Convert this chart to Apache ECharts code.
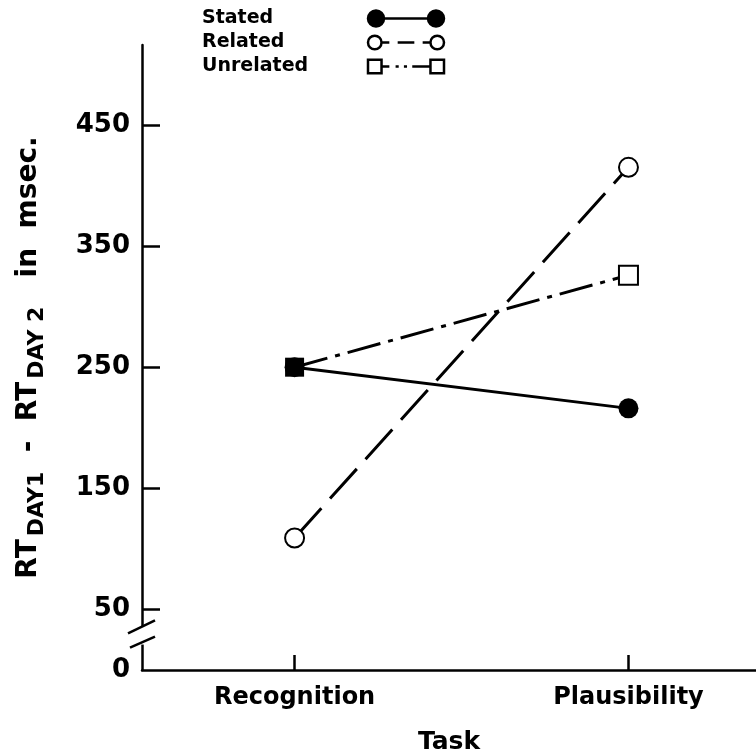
<!DOCTYPE html>
<html>
<head>
<meta charset="utf-8">
<script src="https://cdn.jsdelivr.net/npm/echarts@6/dist/echarts.min.js"></script>
<style>html,body{margin:0;padding:0;background:#fff}#c{width:756px;height:755px}</style>
</head>
<body>
<div id="c"></div>
<script>
// ---- data ----
const categories = ['Recognition', 'Plausibility'];
const stated = [250, 216];
const related = [109, 415];
const unrelated = [250, 326];
const yTickValues = [50, 150, 250, 350, 450];
const yLabelValues = [0, 50, 150, 250, 350, 450];

const FONT = 'DejaVu Sans';
const catIdx = categories.map((c, i) => i);
const toPts = vals => vals.map((v, i) => [catIdx[i], v]);

const iconStated = 'path://M8 0 A8 8 0 1 1 8 16 A8 8 0 1 1 8 0 Z M16 8 L60 8 M68 0 A8 8 0 1 1 68 16 A8 8 0 1 1 68 0 Z';
const iconRelated = 'path://M8 1.5 A6.5 6.5 0 1 1 8 14.5 A6.5 6.5 0 1 1 8 1.5 Z M14.5 8 L22 8 M30 8 L46 8 M54 8 L61.5 8 M68 1.5 A6.5 6.5 0 1 1 68 14.5 A6.5 6.5 0 1 1 68 1.5 Z';
const iconUnrelated = 'path://M1.5 1.5 L14.5 1.5 L14.5 14.5 L1.5 14.5 Z M14.5 8 L22 8 M28 8 L31 8 M36 8 L39 8 M44 8 L61.5 8 M61.5 1.5 L74.5 1.5 L74.5 14.5 L61.5 14.5 Z';

const chart = echarts.init(document.getElementById('c'), null, {renderer: 'canvas'});

const unrelatedData = toPts(unrelated).map((p, i) => i === 0 ? {value: p, symbol: 'rect', itemStyle: {color: '#000'}} : {value: p});

chart.setOption({
  animation: false,
  backgroundColor: '#fff',
  grid: {left: 142, right: 0, top: 45, bottom: 85, containLabel: false, outerBoundsMode: 'none'},
  legend: {
    orient: 'vertical',
    left: 197,
    top: 4,
    align: 'right',
    itemWidth: 76,
    itemHeight: 16,
    itemGap: 5,
    formatter: name => '{t|' + name + '}',
    textStyle: {
      fontFamily: FONT, fontWeight: 'bold', fontSize: 19, color: '#000',
      rich: {t: {fontFamily: FONT, fontWeight: 'bold', fontSize: 19, color: '#000', width: 161, align: 'left', lineHeight: 22}}
    },
    data: [
      {name: 'Stated', icon: iconStated, itemStyle: {color: '#000', borderColor: '#000', borderWidth: 2.5}},
      {name: 'Related', icon: iconRelated, itemStyle: {color: '#fff', borderColor: '#000', borderWidth: 2.5}},
      {name: 'Unrelated', icon: iconUnrelated, itemStyle: {color: '#fff', borderColor: '#000', borderWidth: 2.5}}
    ]
  },
  xAxis: {
    type: 'value',
    min: -0.457,
    max: 1.382,
    name: 'Task',
    nameLocation: 'middle',
    nameGap: 60,
    nameTextStyle: {fontFamily: FONT, fontWeight: 'bold', fontSize: 25, color: '#000'},
    axisLine: {show: true, onZero: false, lineStyle: {color: '#000', width: 2.5}},
    axisTick: {show: true, inside: true, length: 15, customValues: catIdx, lineStyle: {color: '#000', width: 2.5}},
    axisLabel: {
      customValues: catIdx,
      margin: 16,
      fontFamily: FONT, fontWeight: 'bold', fontSize: 24, color: '#000',
      formatter: v => categories[Math.round(v)] || ''
    },
    splitLine: {show: false}
  },
  yAxis: {
    type: 'value',
    min: 0,
    max: 516,
    name: 'RT{sub|DAY1}  -  RT{sub|DAY 2}   in  msec.',
    nameLocation: 'middle',
    nameGap: 94,
    nameTextStyle: {
      fontFamily: FONT, fontWeight: 'bold', fontSize: 28, color: '#000',
      rich: {
        sub: {fontFamily: FONT, fontWeight: 'bold', fontSize: 22, color: '#000', padding: [16, 0, 0, 3]}
      }
    },
    axisLine: {show: true, onZero: false, lineStyle: {color: '#000', width: 2.5}},
    axisTick: {show: true, inside: true, length: 18, customValues: yTickValues, lineStyle: {color: '#000', width: 2.5}},
    axisLabel: {
      customValues: yLabelValues,
      margin: 12,
      fontFamily: FONT, fontWeight: 'bold', fontSize: 26, color: '#000'
    },
    splitLine: {show: false}
  },
  series: [
    {
      name: 'Stated', type: 'line', data: toPts(stated),
      symbol: 'circle', symbolSize: 20,
      itemStyle: {color: '#000'},
      lineStyle: {color: '#000', width: 3, type: 'solid'},
      z: 3
    },
    {
      name: 'Related', type: 'line', data: toPts(related),
      symbol: 'emptyCircle', symbolSize: 19,
      itemStyle: {color: '#000', borderWidth: 3},
      lineStyle: {color: '#000', width: 3, type: [40, 13]},
      z: 3
    },
    {
      name: 'Unrelated', type: 'line', data: unrelatedData,
      symbol: 'emptyRect', symbolSize: 19,
      itemStyle: {color: '#000', borderWidth: 3},
      lineStyle: {color: '#000', width: 3, type: [34, 8, 5, 8]},
      z: 4
    }
  ]
});

// axis break marks
const ax = chart.convertToPixel({xAxisIndex: 0}, -0.457);
const yTop = chart.convertToPixel({yAxisIndex: 0}, 36);
const yBot = chart.convertToPixel({yAxisIndex: 0}, 21);
chart.setOption({
  graphic: [
    {type: 'rect', shape: {x: ax - 4, y: yTop, width: 8, height: yBot - yTop}, style: {fill: '#fff'}, z: 100},
    {type: 'line', shape: {x1: ax - 14, y1: yTop + 7, x2: ax + 13, y2: yTop - 6}, style: {stroke: '#000', lineWidth: 2.5}, z: 101},
    {type: 'line', shape: {x1: ax - 12, y1: yBot + 3, x2: ax + 13, y2: yBot - 8}, style: {stroke: '#000', lineWidth: 2.5}, z: 101}
  ]
});
</script>
</body>
</html>
